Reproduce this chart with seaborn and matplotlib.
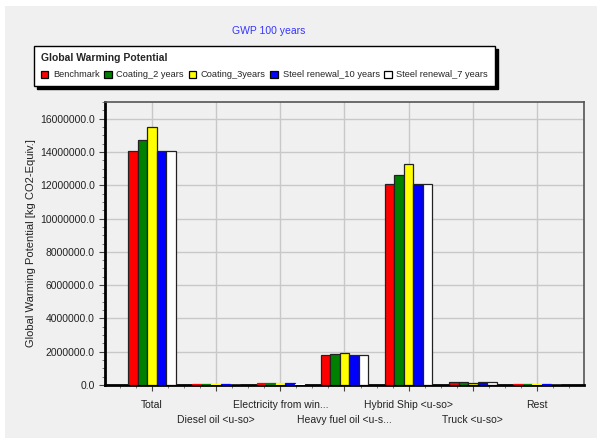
import pandas as pd
import matplotlib
matplotlib.use("Agg")
import matplotlib.pyplot as plt
from matplotlib.ticker import MultipleLocator, FormatStrFormatter
from matplotlib.patches import Rectangle
import seaborn as sns

categories = ["Total", "Diesel oil <u-so>", "Electricity from win...",
              "Heavy fuel oil <u-s...", "Hybrid Ship <u-so>", "Truck <u-so>", "Rest"]
scenarios = ["Benchmark", "Coating_2 years", "Coating_3years",
             "Steel renewal_10 years", "Steel renewal_7 years"]

benchmark = [14070000, 70000, 110000, 1780000, 12070000, 160000, 60000]
coating_2 = [14730000, 70000, 110000, 1840000, 12630000, 160000, 60000]
coating_3 = [15470000, 60000, 100000, 1910000, 13270000, 150000, 50000]
steel_10 = [14070000, 70000, 110000, 1780000, 12070000, 160000, 60000]
steel_7 = [14070000, 30000, 50000, 1780000, 12070000, 160000, 20000]

colors = ["#ff0000", "#008000", "#ffff00", "#0000ff", "#ffffff"]

rows = []
for name, vals in zip(scenarios, [benchmark, coating_2, coating_3, steel_10, steel_7]):
    for cat, v in zip(categories, vals):
        rows.append({"category": cat, "scenario": name, "value": v})
df = pd.DataFrame(rows)

sns.set_style("white")
plt.rcParams["font.family"] = ["Liberation Sans", "DejaVu Sans"]

fig = plt.figure(figsize=(5.97, 4.38), dpi=100, facecolor="white")
# grey panel behind the chart
fig.patches.append(Rectangle((5 / 597, 0), 1, 1 - 6 / 438, transform=fig.transFigure,
                             facecolor="#f0f0f0", edgecolor="none", zorder=-10))

ax = fig.add_axes([105 / 597, 53 / 438, 479 / 597, 283 / 438])
ax.set_facecolor("#f0f0f0")

sns.barplot(data=df, x="category", y="value", hue="scenario", order=categories,
            hue_order=scenarios, palette=colors, width=0.74, edgecolor="#222222",
            linewidth=0.9, saturation=1, ax=ax, zorder=3)

# very small bars: outline in their own colour so the fill stays visible
for p in ax.patches:
    if 0 < p.get_height() < 130000:
        p.set_edgecolor(p.get_facecolor())

ax.set_ylim(0, 17000000)
ax.set_xlim(-0.73, 6.73)
ax.yaxis.set_major_locator(MultipleLocator(2000000))
ax.yaxis.set_minor_locator(MultipleLocator(500000))
ax.yaxis.set_major_formatter(FormatStrFormatter("%.1f"))
ax.xaxis.set_minor_locator(MultipleLocator(0.25))

ax.set_xticks(range(len(categories)))
ax.set_xticklabels(categories, fontsize=7.5, color="#222222")
for i, lab in enumerate(ax.get_xticklabels()):
    if i % 2 == 1:
        lab.set_y(-0.053)
ax.tick_params(axis="x", pad=7)
ax.tick_params(axis="y", labelsize=7.5, labelcolor="#222222")
ax.tick_params(which="major", direction="out", length=4, width=0.8, color="#444444", left=True, bottom=True)
ax.tick_params(which="minor", direction="out", length=2.5, width=0.6, color="#666666", left=True, bottom=True)

ax.grid(True, which="major", color="#c8c8c8", linewidth=1, zorder=0)
ax.set_axisbelow(True)

for side in ["left", "bottom"]:
    ax.spines[side].set_color("black")
    ax.spines[side].set_linewidth(2)
for side in ["top", "right"]:
    ax.spines[side].set_color("#555555")
    ax.spines[side].set_linewidth(1.2)

ax.set_xlabel("")
ax.set_ylabel("Global Warming Potential [kg CO2-Equiv.]", fontsize=8, color="#222222", labelpad=3)

handles, lbls = ax.get_legend_handles_labels()
ax.get_legend().remove()
for h in handles:
    h.set_edgecolor("black")
    h.set_linewidth(0.9)
leg = fig.legend(handles, lbls, loc="upper left", bbox_to_anchor=(34 / 597, 1 - 46 / 438),
                 bbox_transform=fig.transFigure, borderaxespad=0, ncol=5, fontsize=6.7,
                 title="Global Warming Potential",
                 title_fontproperties={"weight": "bold", "size": 7.5}, alignment="left",
                 frameon=True, fancybox=False, shadow={"color": "black", "alpha": 1},
                 edgecolor="black", framealpha=1, facecolor="white", handlelength=0.8,
                 handleheight=0.8, handletextpad=0.5, columnspacing=0.5, borderpad=0.75,
                 labelspacing=0.8)
leg.get_frame().set_linewidth(1)

fig.text(269 / 597, 1 - 31 / 438, "GWP 100 years", color="#3535ff", fontsize=7.5,
         ha="center", va="center")

fig.savefig("out.png", dpi=100, facecolor=fig.get_facecolor())
